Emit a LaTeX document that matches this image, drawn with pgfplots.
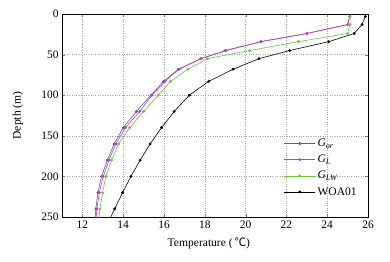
\documentclass[border=0pt]{standalone}
\usepackage{fontspec}
\setmainfont{Liberation Serif}
\newfontfamily\cjk{Noto Sans CJK SC}
\usepackage{pgfplots}
\pgfplotsset{compat=1.18}
\definecolor{cor}{RGB}{90,90,190}
\definecolor{cl}{RGB}{210,60,160}
\definecolor{clw}{RGB}{100,200,60}
\begin{document}
\begin{tikzpicture}
\begin{axis}[
  scale only axis, width=306bp, height=203bp,
  xmin=11, xmax=26, ymin=0, ymax=250, y dir=reverse,
  xtick={12,14,...,26}, ytick={0,50,...,250},
  tick align=inside, major tick length=3bp,
  grid=major, grid style={dotted, gray!70},
  axis line style={line width=0.6pt},
  /pgf/number format/assume math mode=true,
  ticklabel style={font=\fontsize{11.5}{12}\selectfont},
  label style={font=\fontsize{11.6}{12}\selectfont},
  xlabel={Temperature (\,{\cjk ℃})},
  ylabel={Depth (m)},
  xlabel style={at={(axis description cs:0.48,-0.128)}, anchor=center},
  ylabel style={at={(axis description cs:-0.144,0.5)}, anchor=center},
  every axis plot/.append style={line width=0.6pt, mark=*, mark size=1.1pt},
  legend style={draw=none, fill=none, at={(axis description cs:0.715,0.405)}, anchor=north west,
    font=\fontsize{11.6}{12}\selectfont, row sep=3bp},
  legend cell align=left,
  legend image code/.code={\draw[mark repeat=2,mark phase=2] plot coordinates {(0bp,0bp) (15.5bp,0bp) (31bp,0bp)};},
  clip=true,
]
\addplot[color=cor] coordinates {
(25.1,3) (25.0,13) (23.0,24) (20.75,34) (19.0,45) (17.8,55) (16.7,68) (15.98,83) (15.36,100)
(14.65,120) (14.0,140) (13.56,160) (13.22,180) (12.94,200) (12.76,220) (12.66,240) (12.6,260)};
\addlegendentry{\textit{G}\textsubscript{\textit{or}}}
\addplot[color=cl] coordinates {
(25.1,3) (25.0,13) (23.0,24) (20.78,34) (19.04,45) (17.83,55) (16.74,68) (16.05,83) (15.41,100)
(14.81,120) (14.11,140) (13.64,160) (13.3,180) (13.02,200) (12.83,220) (12.71,240) (12.65,260)};
\addlegendentry{\textit{G}\textsubscript{\textit{L}}}
\addplot[color=clw] coordinates {
(25.12,3) (25.12,13) (25.0,24) (22.6,34) (20.2,45) (18.13,55) (17.17,68) (16.32,83) (15.72,100)
(15.0,120) (14.32,140) (13.77,160) (13.43,180) (13.15,200) (12.99,220) (12.86,240) (12.78,260)};
\addlegendentry{\textit{G}\textsubscript{\textit{LW}}}
\addplot[color=black] coordinates {
(25.87,3) (25.71,13) (25.32,24) (24.08,34) (22.16,45) (20.66,55) (19.39,68) (18.19,83) (17.24,100)
(16.5,120) (15.88,140) (15.32,160) (14.83,180) (14.38,200) (13.97,220) (13.58,240) (13.2,260)};
\addlegendentry{WOA01}
\end{axis}
\path (current axis.south west) ++(-62bp,-45bp) (current axis.north east) ++(22bp,14bp);
\end{tikzpicture}
\end{document}
